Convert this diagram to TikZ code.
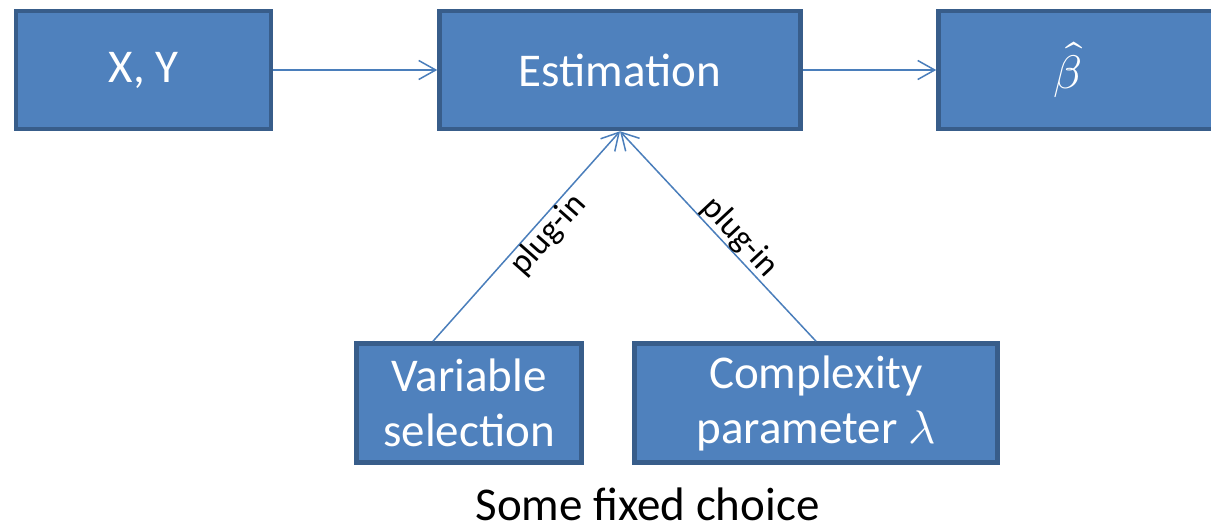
\documentclass[tikz,border=0pt]{standalone}
\usepackage{fontspec}
\usepackage{unicode-math}
\setmainfont{Carlito}
\setmathfont{Latin Modern Math}
\usetikzlibrary{arrows.meta,calc}
\definecolor{boxfill}{HTML}{4F81BD}
\definecolor{boxline}{HTML}{385D8A}
\definecolor{connc}{HTML}{4A7EBB}
\tikzset{
  box/.style={draw=boxline, fill=boxfill, line width=4.5pt, text=white,
    font=\fontsize{47}{55}\selectfont, align=center, inner sep=0pt},
  conn/.style={draw=connc, line width=1.5pt,
    -{Straight Barb[length=17pt,width=19pt]}},
  lbl/.style={font=\fontsize{34}{40}\selectfont, inner sep=0pt, sloped}
}
\begin{document}
\begin{tikzpicture}[x=1pt,y=-1pt]
\useasboundingbox (0,0) rectangle (1211,525);
\clip (0,0) rectangle (1211,525);
\node[box, minimum width=255pt, minimum height=118pt] (xy) at (143.5,70) {X, Y};
\node[box, minimum width=361pt, minimum height=118pt] (est) at (620,70) {Estimation};
\node[box, minimum width=300pt, minimum height=118pt] (beta) at (1088.5,70) {\hspace*{-41pt}$\hat{\beta}$};
\node[box, minimum width=225pt, minimum height=119pt] (vs) at (469,403) {Variable\\selection};
\node[box, minimum width=363pt, minimum height=119pt] (cp) at (816,403) {Complexity\\parameter $\lambda$};
\node[font=\fontsize{47}{55}\selectfont, anchor=base, inner sep=0pt] (fixed) at (647.5,520) {Some fixed choice};
\draw[conn] (xy) -- (est);
\draw[conn] (est) -- (beta);
\draw[conn] ([xshift=-36pt]vs.north) -- (est.south) node[lbl, pos=0.556, anchor=north] (l1) {plug-in};
\draw[conn] (cp.north) -- (est.south) node[lbl, pos=0.445, anchor=south] (l2) {plug-in};
\end{tikzpicture}
\end{document}
